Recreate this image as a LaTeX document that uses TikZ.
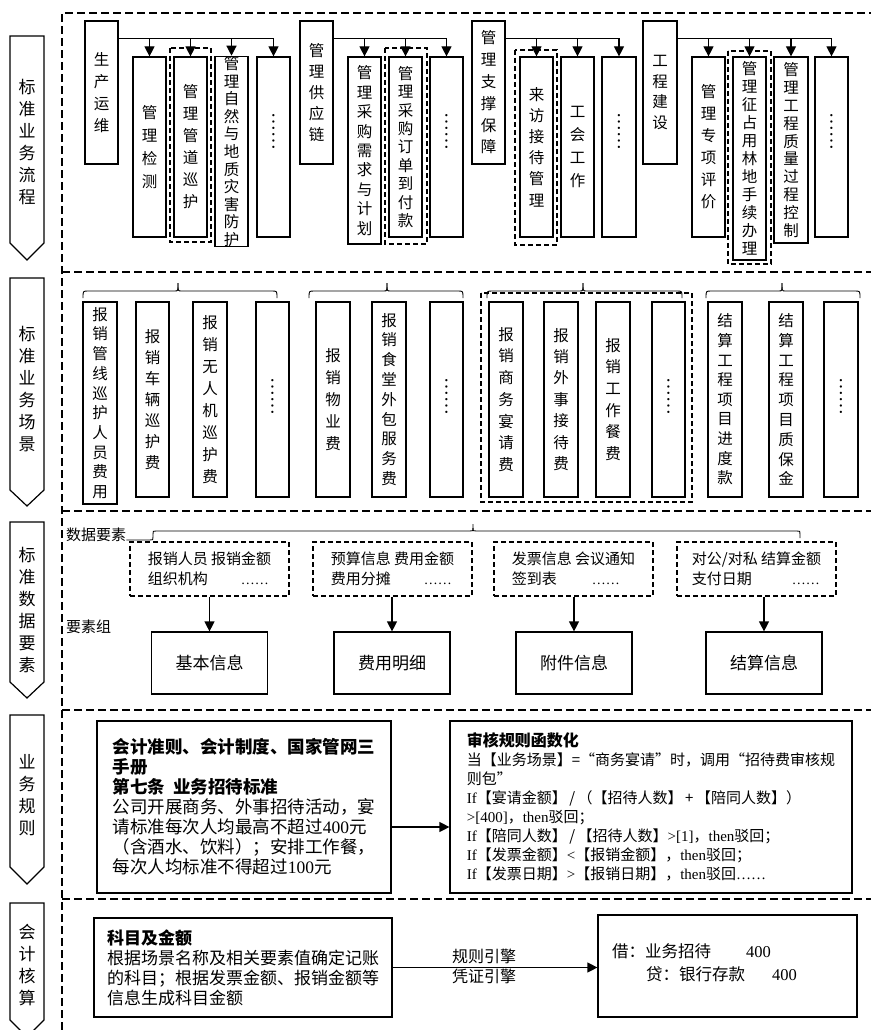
\documentclass[tikz,border=0pt]{standalone}
\usepackage{fontspec}
\setmainfont{Noto Sans CJK SC}
\newfontfamily\lat{Liberation Serif}
\usetikzlibrary{arrows.meta}
\makeatletter
\def\vt@end{}
\def\vt#1{\vt@a#1\vt@end}
\def\vt@a#1{#1\vt@b}
\def\vt@b#1{\ifx\vt@end#1\expandafter\@gobble\else\expandafter\@firstofone\fi{\\#1\vt@b}}
\makeatother
% vertical text box: name, x1, y1, x2, y2, line pitch, text
\newcommand\VB[7]{\node[vbox=#6, minimum width={#4-#2}, minimum height={#5-#3}] (#1) at ({(#2+#4)/2},{(#3+#5)/2}) {\vt{#7}};}
% box holding a vertical ellipsis: name, x1, y1, x2, y2, shift
\newcommand\VD[6]{\node[vbox=15, minimum width={#4-#2}, minimum height={#5-#3}] (#1) at ({(#2+#4)/2},{(#3+#5)/2}) {};
  \node[rotate=-90, font=\lat\fontsize{19}{19}\selectfont, inner sep=0pt] (#1d) at ([yshift=#6]#1.center) {……};}
% chevron: name, ytop, ybody, ytip, ytext, text
\newcommand\CHEV[6]{\draw[ln] (10,#2) -- (44,#2) -- (44,#3) -- (27,#4) -- (10,#3) -- cycle;
  \node[align=center, inner sep=0pt, font=\fontsize{17}{22}\selectfont] (#1) at (27,#5) {\vt{#6}};}
% brace: x1, x2, xc
\newcommand\BRC[3]{\draw[thinln] (#1,298) .. controls (#1,291) .. (#1+5,291) -- (#3-3,291) .. controls (#3,291) .. (#3,283);
  \draw[thinln] (#2,298) .. controls (#2,291) .. (#2-5,291) -- (#3+3,291) .. controls (#3,291) .. (#3,283);}
\begin{document}
\begin{tikzpicture}[x=1pt,y=-1pt,
  frame/.style={line width=1.2pt, dash pattern=on 8pt off 4pt},
  dframe/.style={line width=1.1pt, dash pattern=on 5pt off 3pt},
  ln/.style={line width=1.2pt},
  thinln/.style={line width=0.9pt},
  arr/.style={line width=1.2pt, -{Triangle[width=10pt,length=10pt]}},
  vbox/.style={draw, line width=1.2pt, inner sep=0pt, align=center, font=\fontsize{15.5}{#1}\selectfont},
  dnode/.style={draw, dframe, inner sep=0pt, align=left, font=\fontsize{15}{20}\selectfont, minimum width=159, minimum height=54},
  sbox/.style={draw, ln, inner sep=0pt, minimum width=116, minimum height=62, font=\fontsize{17}{17}\selectfont},
  lbl/.style={anchor=west, inner sep=0pt, font=\fontsize{15}{15}\selectfont}]
\useasboundingbox (0,0) rectangle (871,1030);
\fill[white] (0,0) rectangle (871,1030);
% frame
\draw[frame] (62,1030) -- (62,13) -- (871,13);
\foreach \yy in {272,511,710,899} \draw[frame] (62,\yy) -- (871,\yy);
% chevrons
\CHEV{ch1}{36}{243}{260}{142}{标准业务流程}
\CHEV{ch2}{278}{490}{506}{389}{标准业务场景}
\CHEV{ch3}{522}{682}{698}{610}{标准数据要素}
\CHEV{ch4}{715}{867}{884}{795}{业务规则}
\CHEV{ch5}{903}{1020}{1037}{965}{会计核算}
% row 1
\VB{a1}{85}{21}{118}{164}{22}{生产运维}
\VB{a2}{133}{57}{166}{237}{23}{管理检测}
\VB{a3}{174}{57}{207}{237}{22}{管理管道巡护}
\VB{a4}{215}{57}{248}{246}{17.6}{管理自然与地质灾害防护}
\VD{a5}{257}{57}{290}{237}{15pt}
\VB{b1}{300}{21}{333}{164}{21}{管理供应链}
\VB{b2}{348}{57}{381}{244}{19.4}{管理采购需求与计划}
\VB{b3}{389}{57}{422}{237}{18.4}{管理采购订单到付款}
\VD{b4}{430}{57}{463}{237}{15pt}
\VB{c1}{472}{21}{505}{164}{21.8}{管理支撑保障}
\VB{c2}{520}{57}{553}{237}{21.2}{来访接待管理}
\VB{c3}{561}{57}{594}{237}{23}{工会工作}
\VD{c4}{602}{57}{636}{237}{15pt}
\VB{d1}{643}{21}{677}{164}{20.5}{工程建设}
\VB{d2}{692}{57}{725}{237}{22}{管理专项评价}
\VB{d3}{733}{57}{766}{260}{18}{管理征占用林地手续办理}
\VB{d4}{774}{57}{808}{243}{17.8}{管理工程质量过程控制}
\VD{d5}{815}{57}{848}{237}{15pt}
\draw[dframe] (170,48) rectangle (211,242);
\draw[dframe] (385,48) rectangle (427,244);
\draw[dframe] (515,50) rectangle (557,245);
\draw[dframe] (728,51) rectangle (771,264);
\draw[ln] ([yshift=-18pt]a1.north east) coordinate (ja) -- (ja -| a5.north);
\foreach \n in {a2,a3,a4,a5} \draw[arr] (ja -| \n.north) -- (\n.north);
\draw[ln] ([yshift=-18pt]b1.north east) coordinate (jb) -- (jb -| b4.north);
\foreach \n in {b2,b3,b4} \draw[arr] (jb -| \n.north) -- (\n.north);
\draw[ln] ([yshift=-18pt]c1.north east) coordinate (jc) -- (jc -| c4.north);
\foreach \n in {c2,c3,c4} \draw[arr] (jc -| \n.north) -- (\n.north);
\draw[ln] ([yshift=-18pt]d1.north east) coordinate (jd) -- (jd -| d5.north);
\foreach \n in {d2,d3,d4,d5} \draw[arr] (jd -| \n.north) -- (\n.north);
% row 2
\VB{e1}{83}{302}{117}{504}{19.7}{报销管线巡护人员费用}
\VB{e2}{136}{302}{169}{497}{21}{报销车辆巡护费}
\VB{e3}{193}{302}{227}{497}{21.9}{报销无人机巡护费}
\VD{e4}{256}{302}{289}{497}{3pt}
\VB{f1}{316}{302}{350}{497}{22}{报销物业费}
\VB{f2}{372}{302}{406}{497}{19.8}{报销食堂外包服务费}
\VD{f3}{430}{302}{463}{497}{3pt}
\VB{g1}{489}{302}{523}{497}{21.7}{报销商务宴请费}
\VB{g2}{544}{302}{578}{497}{21.4}{报销外事接待费}
\VB{g3}{596}{302}{630}{497}{21.7}{报销工作餐费}
\VD{g4}{652}{302}{685}{497}{3pt}
\VB{h1}{708}{302}{742}{497}{19.6}{结算工程项目进度款}
\VB{h2}{769}{302}{803}{497}{19.8}{结算工程项目质保金}
\VD{h3}{824}{302}{858}{497}{3pt}
\draw[dframe] (481,293) rectangle (692,502);
\BRC{83}{277}{178}
\BRC{309}{463}{387}
\BRC{487}{682}{583}
\BRC{706}{860}{782}
% row 3
\node[lbl] (l1) at (66,535) {数据要素};
\node[lbl] (l2) at (66,627) {要素组};
\draw[thinln] (l1.south east |- 0,540) -- (150,540) .. controls (153,540) .. (153,537) -- (153,534) .. controls (153,531) .. (156,531) -- (470,531) .. controls (473,531) .. (473,528) -- (473,524);
\draw[thinln] (473,528) .. controls (473,531) .. (476,531) -- (797,531) .. controls (800,531) .. (800,534) -- (800,538);
\node[dnode] (p1) at (209.5,569) {报销人员 报销金额\\组织机构\hspace{33pt}{\lat\fontsize{14}{14}\selectfont ……}};
\node[dnode] (p2) at (392.5,569) {预算信息 费用金额\\费用分摊\hspace{33pt}{\lat\fontsize{14}{14}\selectfont ……}};
\node[dnode] (p3) at (573.5,569) {发票信息 会议通知\\签到表\hspace{35pt}{\lat\fontsize{14}{14}\selectfont ……}};
\node[dnode] (p4) at (756.5,569) {对公/对私 结算金额\\支付日期\hspace{40pt}{\lat\fontsize{14}{14}\selectfont ……}};
\node[sbox] (q1) at (209.5,663) {基本信息};
\node[sbox] (q2) at (392,663) {费用明细};
\node[sbox] (q3) at (574,663) {附件信息};
\node[sbox] (q4) at (764,663) {结算信息};
\foreach \i in {1,...,4} \draw[arr] (q\i.north |- p\i.south) -- (q\i.north);
% row 4
\node[draw, ln, minimum width=294, minimum height=172, inner sep=0pt, align=left, font=\fontsize{17.5}{20}\selectfont] (L) at (244,807) {%
{\bfseries 会计准则、会计制度、国家管网三}\\
{\bfseries 手册}\\
{\bfseries 第七条\ \ 业务招待标准}\\
公司开展商务、外事招待活动，宴\\
请标准每次人均最高不超过{\lat 400}元\\
（含酒水、饮料）；安排工作餐，\\
每次人均标准不得超过{\lat 100}元};
\node[draw, ln, minimum width=402, minimum height=172, inner sep=0pt, align=left, font=\fontsize{15}{19}\selectfont] (R) at (651,807) {%
{\bfseries\fontsize{16}{19}\selectfont 审核规则函数化}\\
当【业务场景】=“商务宴请”时，调用“招待费审核规\\
则包”\\
{\lat If}【宴请金额】\,/\,（【招待人数】\,+\,【陪同人数】）\\
{\lat >[400]}，{\lat then}驳回；\\
{\lat If}【陪同人数】\,/\,【招待人数】{\lat >[1]}，{\lat then}驳回；\\
{\lat If}【发票金额】{\lat <}【报销金额】，{\lat then}驳回；\\
{\lat If}【发票日期】{\lat >}【报销日期】，{\lat then}驳回{\lat ……}};
\coordinate (la) at ([yshift=-20pt]L.east);
\draw[arr] (la) -- (la -| R.west);
% row 5
\node[draw, ln, minimum width=298, minimum height=99, inner sep=0pt, align=left, font=\fontsize{17}{20}\selectfont] (P) at (243,967.5) {%
{\bfseries 科目及金额}\\
根据场景名称及相关要素值确定记账\\
的科目；根据发票金额、报销金额等\\
信息生成科目金额};
\node[draw, ln, minimum width=259, minimum height=102, inner sep=0pt] (Q) at (727.5,966) {};
\node[anchor=north west, align=left, inner sep=0pt, font=\fontsize{16.5}{23}\selectfont] (Qt) at (612,943) {借：业务招待\hspace{35pt}{\lat 400}\\\hspace{34pt}贷：银行存款\hspace{27pt}{\lat 400}};
\draw[arr] (P.east) -- (P.east -| Q.west);
\node[anchor=west, inner sep=0pt, font=\fontsize{16}{16}\selectfont] (k1) at (452,956) {规则引擎};
\node[anchor=west, inner sep=0pt, font=\fontsize{16}{16}\selectfont] (k2) at (452,976) {凭证引擎};
\end{tikzpicture}
\end{document}
